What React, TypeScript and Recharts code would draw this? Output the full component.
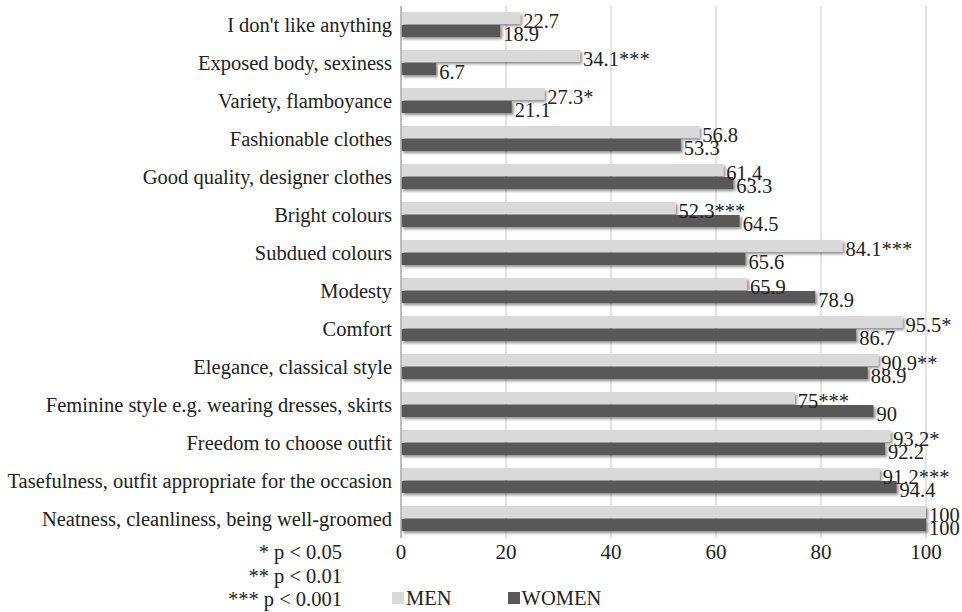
import React from 'react';
import { BarChart, Bar, XAxis, YAxis, CartesianGrid } from 'recharts';

const categories = [
  "I don't like anything",
  'Exposed body, sexiness',
  'Variety, flamboyance',
  'Fashionable clothes',
  'Good quality, designer clothes',
  'Bright colours',
  'Subdued colours',
  'Modesty',
  'Comfort',
  'Elegance, classical style',
  'Feminine style e.g. wearing dresses, skirts',
  'Freedom to choose outfit',
  'Tasefulness, outfit appropriate for the occasion',
  'Neatness, cleanliness, being well-groomed',
];
const menValues = [22.7, 34.1, 27.3, 56.8, 61.4, 52.3, 84.1, 65.9, 95.5, 90.9, 75, 93.2, 91.2, 100];
const menSig = ['', '***', '*', '', '', '***', '***', '', '*', '**', '***', '*', '***', ''];
const womenValues = [18.9, 6.7, 21.1, 53.3, 63.3, 64.5, 65.6, 78.9, 86.7, 88.9, 90, 92.2, 94.4, 100];
const xTicks = [0, 20, 40, 60, 80, 100];
const notes = ['* p < 0.05', '** p < 0.01', '*** p < 0.001'];

const FONT = "'Liberation Serif', 'DejaVu Serif', serif";
const MEN_COLOR = '#d9d9d9';
const WOMEN_COLOR = '#595959';

const data = categories.map((name, i) => ({
  name,
  men: menValues[i],
  menLabel: String(menValues[i]) + menSig[i],
  women: womenValues[i],
  womenLabel: String(womenValues[i]),
}));

const makeLabel = (key: 'menLabel' | 'womenLabel', dy: number) => (props: any) => {
  const { x, y, width, height, index } = props;
  return (
    <text
      x={x + width + 3}
      y={y + height / 2 + dy}
      dominantBaseline="central"
      style={{ fontFamily: FONT, fontSize: 20.5 }}
      fill="#222"
    >
      {data[index][key]}
    </text>
  );
};

export default function App() {
  return (
    <div style={{ position: 'absolute', left: 0, top: 0, width: 962, height: 612, background: '#fff', fontFamily: FONT }}>
      <BarChart
        layout="vertical"
        width={962}
        height={612}
        data={data}
        margin={{ top: 6, right: 36, bottom: 44, left: 0 }}
        barCategoryGap="16%"
        barGap={1}
        style={{ fontFamily: FONT }}
      >
        <defs>
          <filter id="shadow" x="-5%" y="-50%" width="110%" height="220%">
            <feDropShadow dx="2" dy="2" stdDeviation="1.6" floodColor="#000" floodOpacity="0.45" />
          </filter>
        </defs>
        <CartesianGrid horizontal={false} stroke="#d0d0d0" strokeWidth={1.2} />
        <XAxis
          type="number"
          domain={[0, 100]}
          ticks={xTicks}
          axisLine={false}
          tickLine={false}
          height={30}
          tick={{ fontFamily: FONT, fontSize: 21, fill: '#222', dy: -2 }}
        />
        <YAxis
          type="category"
          dataKey="name"
          width={401}
          axisLine={{ stroke: '#b0b0b0', strokeWidth: 1.5 }}
          tickLine={false}
          interval={0}
          tick={{ fontFamily: FONT, fontSize: 20.5, fill: '#222', dx: -1 }}
        />
        <Bar
          dataKey="men"
          fill={MEN_COLOR}
          filter="url(#shadow)"
          isAnimationActive={false}
          label={makeLabel('menLabel', 3)}
        />
        <Bar
          dataKey="women"
          fill={WOMEN_COLOR}
          filter="url(#shadow)"
          isAnimationActive={false}
          label={makeLabel('womenLabel', 3)}
        />
      </BarChart>
      <div style={{ position: 'absolute', left: 0, top: 541, width: 962, height: 70, fontSize: 20.5, color: '#222', lineHeight: '24px' }}>
        {notes.map((n, i) => (
          <div key={n} style={{ position: 'absolute', right: 962 - 342, top: i * 23.5 - 1, whiteSpace: 'nowrap' }}>
            {n}
          </div>
        ))}
        <div style={{ position: 'absolute', left: 392, top: 45, display: 'flex', alignItems: 'center' }}>
          <span style={{ width: 12, height: 12, background: MEN_COLOR, display: 'inline-block', marginRight: 2 }} />
          <span>MEN</span>
          <span style={{ width: 12, height: 12, background: WOMEN_COLOR, display: 'inline-block', marginLeft: 56, marginRight: 2 }} />
          <span>WOMEN</span>
        </div>
      </div>
    </div>
  );
}
